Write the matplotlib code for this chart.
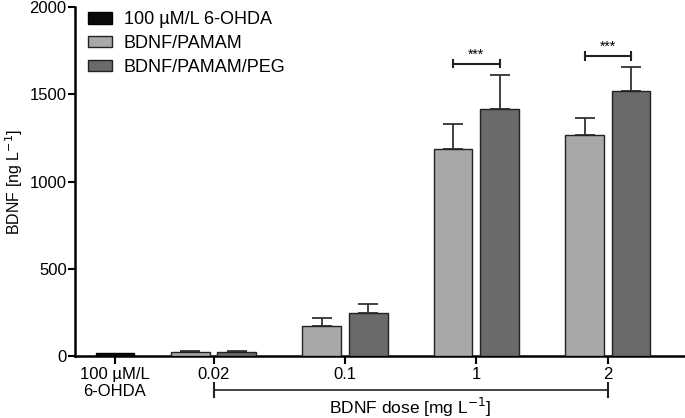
import numpy as np
import matplotlib.pyplot as plt
from matplotlib.patches import Patch

plt.rcParams["font.family"] = ["Liberation Sans", "DejaVu Sans"]

### data
doses = ["0.02", "0.1", "1", "2"]
ctrl_label = "100 µM/L\n6-OHDA"
ctrl_val = 20
pamam = [22, 175, 1185, 1265]
pamam_err = [5, 45, 145, 97]
peg = [25, 245, 1415, 1520]
peg_err = [2, 52, 195, 135]
sig_y = [1676, 1720]
sig_groups = [2, 3]

c_ctrl = "#0a0a0a"
c_pamam = "#a8a8a8"
c_peg = "#6a6a6a"

### positions
xc = 0.0
xg = np.array([0.75, 1.75, 2.75, 3.75])
w = 0.295
off = 0.177

fig = plt.figure(figsize=(6.85, 4.18), dpi=100)
ax = fig.add_axes([0.1095, 0.148, 0.89, 0.835])

ekw = dict(ecolor="#333333", elinewidth=1.3, capsize=7, capthick=1.3, zorder=2)
ax.bar(xc, ctrl_val, w, color=c_ctrl, edgecolor="black", linewidth=1, zorder=3)
ax.bar(xg - off, pamam, w, color=c_pamam, edgecolor="#222222", linewidth=1,
       yerr=[np.zeros(4), pamam_err], error_kw=ekw, zorder=3)
ax.bar(xg + off, peg, w, color=c_peg, edgecolor="#222222", linewidth=1,
       yerr=[np.zeros(4), peg_err], error_kw=ekw, zorder=3)

ax.set_xlim(-0.304, 4.335)
ax.set_ylim(0, 2000)
ax.set_yticks([0, 500, 1000, 1500, 2000])
ax.set_xticks(np.concatenate([[xc], xg]))
ax.set_xticklabels([ctrl_label] + doses, fontsize=12, linespacing=1.15)
ax.tick_params(axis="y", labelsize=12, length=5, width=1.5, pad=1)
ax.tick_params(axis="x", length=6, width=1.5, pad=2)
ax.spines["top"].set_visible(False)
ax.spines["right"].set_visible(False)
ax.spines["left"].set_linewidth(1.8)
ax.spines["bottom"].set_linewidth(1.8)
ax.set_ylabel("BDNF [ng L$^{-1}$]", fontsize=11.5, labelpad=3)

# significance brackets
for g, y in zip(sig_groups, sig_y):
    x1, x2 = xg[g] - off, xg[g] + off
    ax.plot([x1, x2], [y, y], color="#222222", lw=1.5, clip_on=False)
    ax.plot([x1, x1], [y - 22, y + 22], color="#222222", lw=1.5, clip_on=False)
    ax.plot([x2, x2], [y - 22, y + 22], color="#222222", lw=1.5, clip_on=False)
    ax.text((x1 + x2) / 2, y + 12, "***", ha="center", va="bottom", fontsize=10)

# dose bracket under the axis
tr = ax.get_xaxis_transform()
yb = -0.097
ax.plot([xg[0], xg[-1]], [yb, yb], color="#222222", lw=1.2, transform=tr, clip_on=False)
for xx in [xg[0], xg[-1]]:
    ax.plot([xx, xx], [yb - 0.019, yb + 0.019], color="#222222", lw=1.5,
            transform=tr, clip_on=False)
ax.text((xg[0] + xg[-1]) / 2, -0.146, "BDNF dose [mg L$^{-1}$]", transform=tr,
        ha="center", va="center", fontsize=12.5)

handles = [Patch(facecolor=c_ctrl, edgecolor="black"),
           Patch(facecolor=c_pamam, edgecolor="#222222"),
           Patch(facecolor=c_peg, edgecolor="#222222")]
ax.legend(handles, ["100 µM/L 6-OHDA", "BDNF/PAMAM", "BDNF/PAMAM/PEG"],
          loc="upper left", bbox_to_anchor=(0.0, 1.025), frameon=False, fontsize=13,
          handlelength=1.35, handleheight=0.62, handletextpad=0.65, labelspacing=0.38,
          borderaxespad=0.3)

fig.savefig("out.png", dpi=100)
